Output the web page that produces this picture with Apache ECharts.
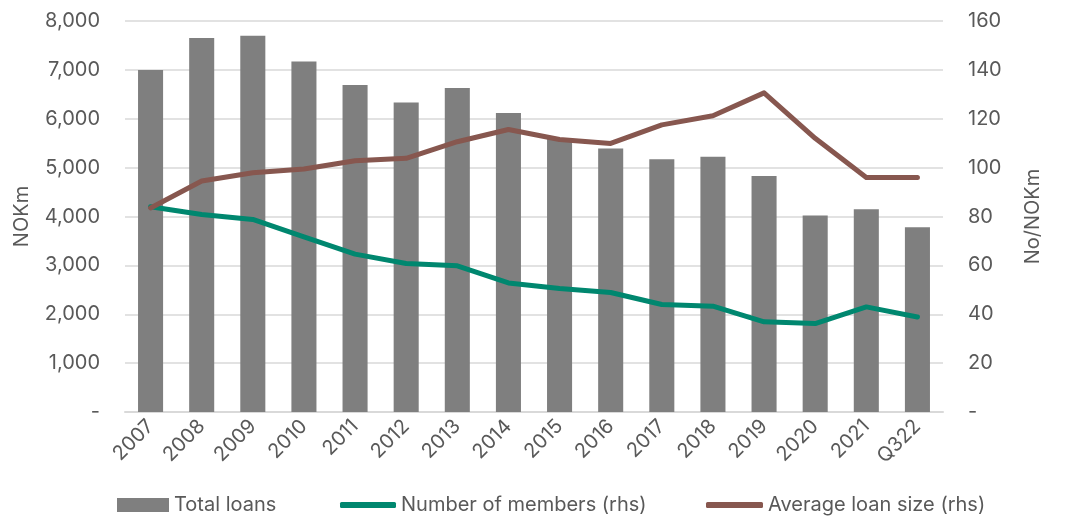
<!DOCTYPE html>
<html>
<head>
<meta charset="utf-8">
<style>html,body{margin:0;padding:0;background:#fff}#c{width:1070px;height:516px}</style>
<script src="https://cdn.jsdelivr.net/npm/echarts@6/dist/echarts.min.js"></script>
</head>
<body>
<div id="c"></div>
<script>
const categories = ['2007','2008','2009','2010','2011','2012','2013','2014','2015','2016','2017','2018','2019','2020','2021','Q322'];
const totalLoans = [7000,7650,7700,7170,6690,6330,6630,6120,5590,5390,5170,5220,4830,4020,4150,3780];
const numberOfMembers = [84,80.8,78.8,71.7,64.6,60.8,59.8,52.8,50.5,48.9,44,43.3,36.9,36.2,43,38.9];
const avgLoanSize = [83.5,94.5,97.9,99.4,102.8,103.8,110.6,115.6,111.5,109.9,117.5,121.2,130.6,112,96,96];
const leftTicks = {min:0,max:8000,interval:1000};
const rightTicks = {min:0,max:160,interval:20};

const FONT = 'Inter';
const TXT = '#595959';
const FS = 20;
const chart = echarts.init(document.getElementById('c'));
const fmtThousands = v => v === 0 ? '-' : v.toLocaleString('en-US');
const legendText = {color: TXT, fontSize: FS, fontFamily: FONT};
chart.setOption({
  animation: false,
  textStyle: {fontFamily: FONT},
  grid: {left: 125, right: 127, top: 21, bottom: 104},
  legend: [
    {data: [{name: 'Total loans', icon: 'rect'}], left: 117, top: 495, itemWidth: 52, itemHeight: 14, itemGap: 4, textStyle: legendText, padding: 0},
    {data: [{name: 'Number of members (rhs)', icon: 'roundRect'}], left: 340, top: 495, itemWidth: 56, itemHeight: 6, textStyle: legendText, padding: 0},
    {data: [{name: 'Average loan size (rhs)', icon: 'roundRect'}], left: 706, top: 495, itemWidth: 57, itemHeight: 6, textStyle: legendText, padding: 0}
  ],
  xAxis: {
    type: 'category', data: categories,
    axisLine: {show: true, lineStyle: {color: '#d9d9d9', width: 2}},
    axisTick: {show: false},
    axisLabel: {rotate: 45, color: TXT, fontSize: FS, margin: 11, fontFamily: FONT}
  },
  yAxis: [
    {type: 'value', min: leftTicks.min, max: leftTicks.max, interval: leftTicks.interval,
     name: 'NOKm', nameLocation: 'middle', nameGap: 93, nameRotate: 90,
     nameTextStyle: {color: TXT, fontSize: FS, fontFamily: FONT},
     axisLine: {show: false}, axisTick: {show: false},
     axisLabel: {color: TXT, fontSize: FS, margin: 25, formatter: fmtThousands, fontFamily: FONT},
     splitLine: {lineStyle: {color: '#d9d9d9', width: 1.5}}},
    {type: 'value', min: rightTicks.min, max: rightTicks.max, interval: rightTicks.interval,
     name: 'No/NOKm', nameLocation: 'middle', nameGap: 80, nameRotate: 90,
     nameTextStyle: {color: TXT, fontSize: FS, fontFamily: FONT},
     axisLine: {show: false}, axisTick: {show: false},
     axisLabel: {color: TXT, fontSize: FS, margin: 25, formatter: v => v === 0 ? '-' : String(v), fontFamily: FONT},
     splitLine: {show: false}}
  ],
  series: [
    {name: 'Total loans', type: 'bar', data: totalLoans, yAxisIndex: 0,
     barCategoryGap: '51%', itemStyle: {color: '#7f7f7f'}},
    {name: 'Number of members (rhs)', type: 'line', data: numberOfMembers, yAxisIndex: 1,
     symbol: 'none', lineStyle: {color: '#00876f', width: 5, cap: 'round', join: 'round'}, itemStyle: {color: '#00876f'}},
    {name: 'Average loan size (rhs)', type: 'line', data: avgLoanSize, yAxisIndex: 1,
     symbol: 'none', lineStyle: {color: '#87574f', width: 5, cap: 'round', join: 'round'}, itemStyle: {color: '#87574f'}}
  ]
});
</script>
</body>
</html>
